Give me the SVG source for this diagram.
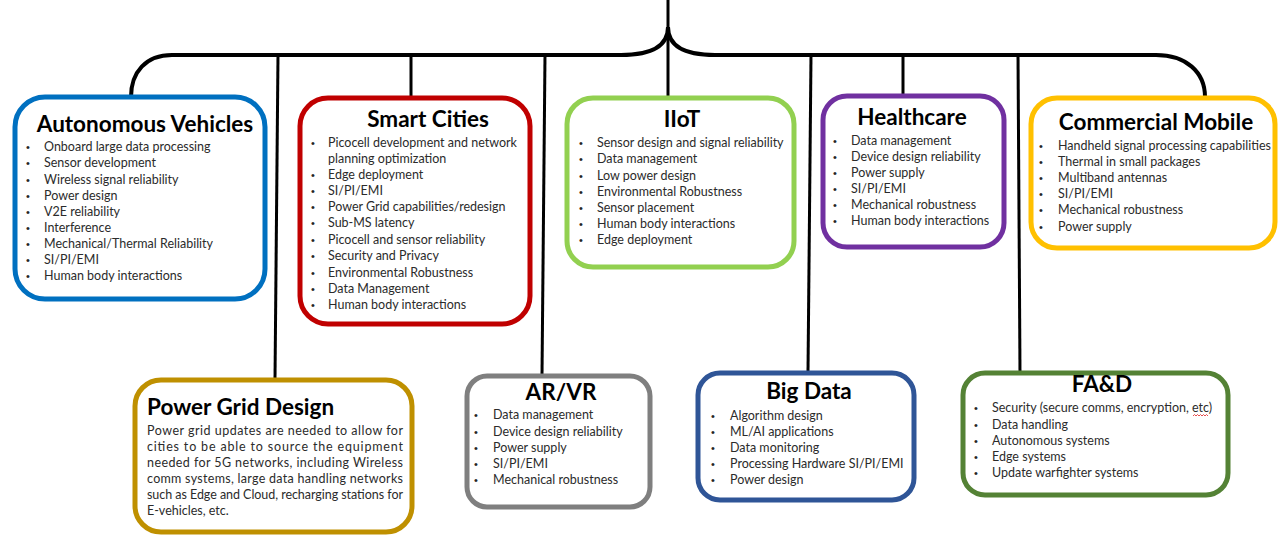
<svg xmlns="http://www.w3.org/2000/svg" width="1281" height="541" viewBox="0 0 1281 541">
<style>
.box{fill:#fff;stroke-width:5}
.t{font-family:Lato,"Liberation Sans",sans-serif;font-weight:bold;font-size:22.5px;fill:#000;text-anchor:middle}
.i{font-family:Lato,"Liberation Sans",sans-serif;font-size:12.5px;fill:#2b2b2b}
.b{font-family:"Liberation Sans",sans-serif;font-size:11px;fill:#262626}
.c{fill:none;stroke:#000;stroke-width:3}
.h{fill:none;stroke:#000;stroke-width:4}
</style>
<rect width="1281" height="541" fill="#fff"/>
<g id="connectors">
<path class="c" d="M668,0 L668,98"/>
<path class="h" d="M131,97 C131,72 146,55 172,55 L621,55 C648,55 668,48 668,27"/>
<path class="h" d="M668,27 C668,48 688,55 715,55 L1156,55 C1186,55 1205,72 1205,97"/>
<path class="c" d="M278,55 L275,379"/>
<path class="c" d="M411,55 L411,97"/>
<path class="c" d="M545,55 L542,375"/>
<path class="c" d="M811,55 L808,372"/>
<path class="c" d="M903,55 L903,95"/>
<path class="c" d="M1018,55 L1020,372"/>
</g>
<g id="autonomous-vehicles">
<rect class="box" x="15" y="97" width="250" height="202" rx="30" stroke="#0070C0"/>
<text class="t" x="145" y="132">Autonomous Vehicles</text>
<g class="b"><text x="26" y="151">•</text><text x="26" y="167">•</text><text x="26" y="184">•</text><text x="26" y="200">•</text><text x="26" y="216">•</text><text x="26" y="232">•</text><text x="26" y="248">•</text><text x="26" y="264">•</text><text x="26" y="280">•</text></g>
<g class="i"><text x="44" y="151">Onboard large data processing</text><text x="44" y="167">Sensor development</text><text x="44" y="184">Wireless signal reliability</text><text x="44" y="200">Power design</text><text x="44" y="216">V2E reliability</text><text x="44" y="232">Interference</text><text x="44" y="248">Mechanical/Thermal Reliability</text><text x="44" y="264">SI/PI/EMI</text><text x="44" y="280">Human body interactions</text></g>
</g>
<g id="smart-cities">
<rect class="box" x="300" y="98" width="230" height="226" rx="28" stroke="#C00000"/>
<text class="t" x="428" y="127">Smart Cities</text>
<g class="b"><text x="311" y="147">•</text><text x="311" y="179">•</text><text x="311" y="195">•</text><text x="311" y="211">•</text><text x="311" y="227">•</text><text x="311" y="244">•</text><text x="311" y="260">•</text><text x="311" y="277">•</text><text x="311" y="293">•</text><text x="311" y="309">•</text></g>
<g class="i"><text x="328" y="147">Picocell development and network</text><text x="328" y="163">planning optimization</text><text x="328" y="179">Edge deployment</text><text x="328" y="195">SI/PI/EMI</text><text x="328" y="211">Power Grid capabilities/redesign</text><text x="328" y="227">Sub-MS latency</text><text x="328" y="244">Picocell and sensor reliability</text><text x="328" y="260">Security and Privacy</text><text x="328" y="277">Environmental Robustness</text><text x="328" y="293">Data Management</text><text x="328" y="309">Human body interactions</text></g>
</g>
<g id="iiot">
<rect class="box" x="567" y="98" width="227" height="169" rx="26" stroke="#92D050"/>
<text class="t" x="682" y="127">IIoT</text>
<g class="b"><text x="579" y="147">•</text><text x="579" y="163">•</text><text x="579" y="180">•</text><text x="579" y="196">•</text><text x="579" y="212">•</text><text x="579" y="228">•</text><text x="579" y="244">•</text></g>
<g class="i"><text x="597" y="147">Sensor design and signal reliability</text><text x="597" y="163">Data management</text><text x="597" y="180">Low power design</text><text x="597" y="196">Environmental Robustness</text><text x="597" y="212">Sensor placement</text><text x="597" y="228">Human body interactions</text><text x="597" y="244">Edge deployment</text></g>
</g>
<g id="healthcare">
<rect class="box" x="823" y="96" width="181" height="151" rx="24" stroke="#7030A0"/>
<text class="t" x="912" y="125">Healthcare</text>
<g class="b"><text x="833" y="145">•</text><text x="833" y="161">•</text><text x="833" y="177">•</text><text x="833" y="193">•</text><text x="833" y="209">•</text><text x="833" y="225">•</text></g>
<g class="i"><text x="851" y="145">Data management</text><text x="851" y="161">Device design reliability</text><text x="851" y="177">Power supply</text><text x="851" y="193">SI/PI/EMI</text><text x="851" y="209">Mechanical robustness</text><text x="851" y="225">Human body interactions</text></g>
</g>
<g id="commercial-mobile">
<rect class="box" x="1031" y="98" width="244" height="150" rx="26" stroke="#FFC000"/>
<text class="t" x="1156" y="130">Commercial Mobile</text>
<g class="b"><text x="1039" y="150">•</text><text x="1039" y="166">•</text><text x="1039" y="182">•</text><text x="1039" y="198">•</text><text x="1039" y="214">•</text><text x="1039" y="231">•</text></g>
<g class="i"><text x="1058" y="150">Handheld signal processing capabilities</text><text x="1058" y="166">Thermal in small packages</text><text x="1058" y="182">Multiband antennas</text><text x="1058" y="198">SI/PI/EMI</text><text x="1058" y="214">Mechanical robustness</text><text x="1058" y="231">Power supply</text></g>
</g>
<g id="power-grid-design">
<rect class="box" x="135" y="380" width="277" height="152" rx="26" stroke="#BF9000"/>
<text class="t" x="147" y="415" style="text-anchor:start">Power Grid Design</text>
<g class="i">
<text x="147" y="435" textLength="256" lengthAdjust="spacing">Power grid updates are needed to allow for</text>
<text x="147" y="451" textLength="256" lengthAdjust="spacing">cities to be able to source the equipment</text>
<text x="147" y="467" textLength="256" lengthAdjust="spacing">needed for 5G networks, including Wireless</text>
<text x="147" y="483" textLength="256" lengthAdjust="spacing">comm systems, large data handling networks</text>
<text x="147" y="499" textLength="256" lengthAdjust="spacing">such as Edge and Cloud, recharging stations for</text>
<text x="147" y="515">E-vehicles, etc.</text>
</g>
</g>
<g id="ar-vr">
<rect class="box" x="467" y="376" width="183" height="131" rx="20" stroke="#7F7F7F"/>
<text class="t" x="561" y="400">AR/VR</text>
<g class="b"><text x="474" y="419">•</text><text x="474" y="436">•</text><text x="474" y="452">•</text><text x="474" y="468">•</text><text x="474" y="484">•</text></g>
<g class="i"><text x="493" y="419">Data management</text><text x="493" y="436">Device design reliability</text><text x="493" y="452">Power supply</text><text x="493" y="468">SI/PI/EMI</text><text x="493" y="484">Mechanical robustness</text></g>
</g>
<g id="big-data">
<rect class="box" x="698" y="373" width="216" height="127" rx="22" stroke="#2F5597"/>
<text class="t" x="809" y="399">Big Data</text>
<g class="b"><text x="711" y="420">•</text><text x="711" y="436">•</text><text x="711" y="452">•</text><text x="711" y="468">•</text><text x="711" y="484">•</text></g>
<g class="i"><text x="730" y="420">Algorithm design</text><text x="730" y="436">ML/AI applications</text><text x="730" y="452">Data monitoring</text><text x="730" y="468">Processing Hardware SI/PI/EMI</text><text x="730" y="484">Power design</text></g>
</g>
<g id="fa-d">
<rect class="box" x="963" y="373" width="265" height="122" rx="22" stroke="#548235"/>
<text class="t" x="1102" y="392">FA&amp;D</text>
<g class="b"><text x="974" y="412">•</text><text x="974" y="429">•</text><text x="974" y="445">•</text><text x="974" y="461">•</text><text x="974" y="477">•</text></g>
<g class="i"><text x="992" y="412">Security (secure comms, encryption, etc)</text><text x="992" y="429">Data handling</text><text x="992" y="445">Autonomous systems</text><text x="992" y="461">Edge systems</text><text x="992" y="477">Update warfighter systems</text></g>
<path d="M1193,416 l1.5,-1.5 l1.5,1.5 l1.5,-1.5 l1.5,1.5 l1.5,-1.5 l1.5,1.5 l1.5,-1.5 l1.5,1.5 l1.5,-1.5 l1.5,1.5" fill="none" stroke="#e02020" stroke-width="0.8"/>
</g>
</svg>
